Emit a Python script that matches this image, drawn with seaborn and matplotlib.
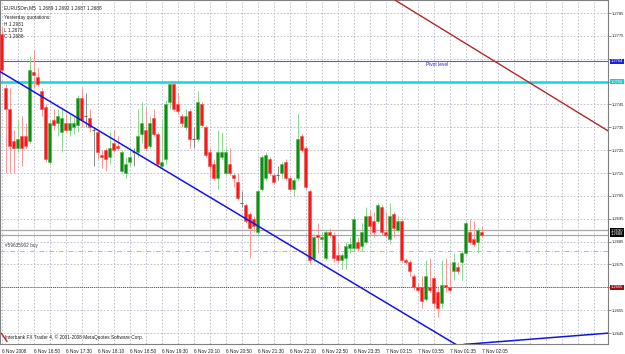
import numpy as np
import pandas as pd
import matplotlib
matplotlib.use("Agg")
import matplotlib.pyplot as plt
import seaborn as sns

# ---------------- data ----------------
opens = [1.2776, 1.2752, 1.2743, 1.2729, 1.2726, 1.2731, 1.2731, 1.2729, 1.2759, 1.2757,
         1.2751, 1.2744, 1.2720, 1.2738, 1.2737, 1.2733, 1.2737, 1.2734, 1.2735, 1.2736,
         1.2748, 1.2740, 1.2739, 1.2734, 1.2733, 1.2723, 1.2725, 1.2722, 1.2728, 1.2727,
         1.2716, 1.2715, 1.2720, 1.2724, 1.2724, 1.2732, 1.2734, 1.2727, 1.2739, 1.2732,
         1.2718, 1.2721, 1.2746, 1.2754, 1.2745, 1.2740, 1.2735, 1.2742, 1.2730, 1.2730,
         1.2745, 1.2735, 1.2724, 1.2719, 1.2713, 1.2722, 1.2715, 1.2719, 1.2714, 1.2711,
         1.2702, 1.2701, 1.2697, 1.2695, 1.2689, 1.2708, 1.2713, 1.2721, 1.2714, 1.2714,
         1.2715, 1.2720, 1.2713, 1.2708, 1.2713, 1.2731, 1.2726, 1.2707, 1.2678, 1.2688,
         1.2686, 1.2678, 1.2689, 1.2688, 1.2679, 1.2677, 1.2678, 1.2682, 1.2682, 1.2685,
         1.2683, 1.2685, 1.2696, 1.2694, 1.2694, 1.2700, 1.2689, 1.2686, 1.2697, 1.2690,
         1.2694, 1.2677, 1.2676, 1.2670, 1.2665, 1.2665, 1.2660, 1.2665, 1.2669, 1.2663,
         1.2658, 1.2666, 1.2665, 1.2672, 1.2674, 1.2676, 1.2680, 1.2689, 1.2686, 1.2685,
         1.2689]
highs = [1.2779, 1.2754, 1.2752, 1.2734, 1.2738, 1.2740, 1.2737, 1.2766, 1.2769, 1.2761,
         1.2752, 1.2745, 1.2738, 1.2743, 1.2743, 1.2744, 1.2741, 1.2741, 1.2740, 1.2749,
         1.2752, 1.2750, 1.2743, 1.2735, 1.2734, 1.2725, 1.2726, 1.2733, 1.2734, 1.2731,
         1.2725, 1.2722, 1.2726, 1.2726, 1.2743, 1.2746, 1.2744, 1.2740, 1.2743, 1.2733,
         1.2738, 1.2747, 1.2755, 1.2755, 1.2750, 1.2741, 1.2743, 1.2743, 1.2735, 1.2751,
         1.2746, 1.2736, 1.2726, 1.2721, 1.2734, 1.2733, 1.2726, 1.2726, 1.2715, 1.2715,
         1.2707, 1.2702, 1.2698, 1.2696, 1.2708, 1.2723, 1.2724, 1.2722, 1.2715, 1.2718,
         1.2720, 1.2721, 1.2714, 1.2713, 1.2741, 1.2732, 1.2727, 1.2708, 1.2688, 1.2693,
         1.2689, 1.2690, 1.2691, 1.2689, 1.2685, 1.2680, 1.2685, 1.2687, 1.2696, 1.2687,
         1.2693, 1.2700, 1.2699, 1.2698, 1.2702, 1.2701, 1.2698, 1.2702, 1.2698, 1.2696,
         1.2695, 1.2678, 1.2677, 1.2671, 1.2667, 1.2670, 1.2677, 1.2678, 1.2670, 1.2665,
         1.2677, 1.2678, 1.2676, 1.2680, 1.2676, 1.2681, 1.2694, 1.2695, 1.2694, 1.2691,
         1.2692]
lows = [1.2758, 1.2715, 1.2715, 1.2715, 1.2724, 1.2718, 1.2726, 1.2728, 1.2752, 1.2753,
        1.2740, 1.2720, 1.2719, 1.2734, 1.2731, 1.2724, 1.2733, 1.2731, 1.2732, 1.2733,
        1.2735, 1.2735, 1.2733, 1.2718, 1.2721, 1.2717, 1.2716, 1.2719, 1.2724, 1.2725,
        1.2715, 1.2713, 1.2718, 1.2718, 1.2722, 1.2728, 1.2725, 1.2726, 1.2731, 1.2718,
        1.2717, 1.2719, 1.2743, 1.2742, 1.2741, 1.2735, 1.2734, 1.2726, 1.2726, 1.2729,
        1.2735, 1.2722, 1.2713, 1.2712, 1.2708, 1.2721, 1.2714, 1.2714, 1.2709, 1.2703,
        1.2700, 1.2693, 1.2678, 1.2689, 1.2688, 1.2707, 1.2712, 1.2714, 1.2710, 1.2712,
        1.2713, 1.2712, 1.2707, 1.2705, 1.2712, 1.2724, 1.2708, 1.2675, 1.2676, 1.2680,
        1.2683, 1.2677, 1.2687, 1.2676, 1.2676, 1.2673, 1.2673, 1.2680, 1.2681, 1.2681,
        1.2681, 1.2684, 1.2688, 1.2687, 1.2693, 1.2688, 1.2687, 1.2684, 1.2687, 1.2689,
        1.2676, 1.2675, 1.2670, 1.2664, 1.2663, 1.2656, 1.2659, 1.2663, 1.2656, 1.2652,
        1.2656, 1.2663, 1.2663, 1.2668, 1.2671, 1.2668, 1.2679, 1.2684, 1.2683, 1.2680,
        1.2687]
closes = [1.2760, 1.2743, 1.2727, 1.2726, 1.2730, 1.2726, 1.2727, 1.2760, 1.2758, 1.2754,
          1.2743, 1.2721, 1.2737, 1.2736, 1.2740, 1.2739, 1.2734, 1.2737, 1.2737, 1.2748,
          1.2738, 1.2740, 1.2735, 1.2734, 1.2724, 1.2722, 1.2721, 1.2726, 1.2725, 1.2726,
          1.2724, 1.2719, 1.2722, 1.2724, 1.2731, 1.2737, 1.2726, 1.2737, 1.2732, 1.2719,
          1.2720, 1.2745, 1.2754, 1.2743, 1.2742, 1.2737, 1.2740, 1.2730, 1.2730, 1.2746,
          1.2736, 1.2723, 1.2718, 1.2713, 1.2724, 1.2724, 1.2724, 1.2715, 1.2713, 1.2704,
          1.2702, 1.2694, 1.2691, 1.2692, 1.2707, 1.2722, 1.2723, 1.2715, 1.2711, 1.2714,
          1.2719, 1.2713, 1.2708, 1.2712, 1.2730, 1.2725, 1.2709, 1.2677, 1.2687, 1.2687,
          1.2687, 1.2689, 1.2688, 1.2678, 1.2677, 1.2679, 1.2683, 1.2684, 1.2695, 1.2682,
          1.2689, 1.2696, 1.2692, 1.2689, 1.2701, 1.2689, 1.2688, 1.2696, 1.2691, 1.2694,
          1.2677, 1.2676, 1.2672, 1.2665, 1.2664, 1.2659, 1.2670, 1.2664, 1.2658, 1.2656,
          1.2666, 1.2665, 1.2664, 1.2676, 1.2672, 1.2680, 1.2693, 1.2685, 1.2684, 1.2690,
          1.2688]

time_labels = ["6 Nov 2008", "6 Nov 16:50", "6 Nov 17:30", "6 Nov 18:10", "6 Nov 18:50",
               "6 Nov 19:30", "6 Nov 20:10", "6 Nov 20:50", "6 Nov 21:30", "6 Nov 22:10",
               "6 Nov 22:50", "6 Nov 23:35", "7 Nov 00:15", "7 Nov 00:55", "7 Nov 01:35",
               "7 Nov 02:05"]
price_ticks = [1.2645, 1.2655, 1.2665, 1.2675, 1.2685, 1.2695, 1.2705, 1.2715,
               1.2725, 1.2735, 1.2745, 1.2755, 1.2765, 1.2775, 1.2785]

pivot_level = 1.2764
resistance_level = 1.2755
ask_level = 1.2690
bid_level = 1.2688
order_level = 1.2681
stop_level = 1.2665

# trend lines (bar index, price)
down_trend_bars = [-1, 125]
down_trend_prices = [1.2760, 1.2628]
up_trend_bars = [115.5, 152]
up_trend_prices = [1.2640, 1.2645]
red_trend_bars = [98, 152]
red_trend_prices = [1.2791, 1.2733]

header = "EURUSDm,M5  1.2689 1.2692 1.2687 1.2688"
yesterday = ["Yesterday quotations:", "H 1.2931", "L 1.2673", "C 1.2688"]

# ---------------- style ----------------
sns.set_theme(style="white")
plt.rcParams['font.family'] = ['Liberation Sans', 'DejaVu Sans']
FS = 3.4
FSR = 3.0

df = pd.DataFrame({"open": opens, "high": highs, "low": lows, "close": closes})
df["bar"] = np.arange(len(df))

fig = plt.figure(figsize=(6.25, 3.54), dpi=100)
ax = fig.add_axes([0, 10 / 354, 608 / 625, 344 / 354])
ax.set_facecolor("white")

ax.set_xlim(-0.425, 151.575)
ax.set_ylim(1.26402, 1.27907)

# labels hidden under the coloured price boxes
covered = {1.2765, 1.2755, 1.2665}
ax.set_yticks(price_ticks)
ax.set_yticklabels(["" if p in covered else f"{p:.4f}" for p in price_ticks])
ax.set_xticks(np.arange(0, len(time_labels) * 8, 8))
ax.set_xticklabels(time_labels, ha="left")
ax.set_xticks(np.arange(0, 152, 4), minor=True)
ax.grid(True, which="both", axis="both", color="#b4b8c8", linestyle=(0, (2, 2)), linewidth=0.6)
ax.set_axisbelow(True)

ax.yaxis.tick_right()
ax.tick_params(axis="y", which="major", labelsize=FSR, length=2, width=0.5, color="#606060",
               pad=0.8, labelcolor="#202020")
ax.tick_params(axis="x", which="major", labelsize=FS, length=2, width=0.5, color="#606060",
               pad=1.5, labelcolor="#202020")
ax.tick_params(axis="x", which="minor", length=0)
for lab in ax.get_yticklabels():
    lab.set_horizontalalignment("left")
for s in ax.spines.values():
    s.set_color("#808080")
    s.set_linewidth(0.8)

# horizontal levels
ax.axhline(pivot_level, color="#5a5ad2", lw=0.8, zorder=1.5)
ax.axhline(resistance_level, color="#10d8d8", lw=1.8, zorder=1.5)
ax.axhline(ask_level, color="#a8a8a8", lw=0.9, zorder=1.5)
ax.axhline(bid_level, color="#a8a8a8", lw=0.9, zorder=1.5)
ax.axhline(order_level, color="#8cd88c", lw=0.7, linestyle=(0, (5, 2, 1, 2)), zorder=1.5)
ax.axhline(stop_level, color="#b03030", lw=0.7, linestyle=(0, (1, 1)), zorder=1.5)

# candles
up = df[df.close > df.open]
dn = df[df.close < df.open]
dj = df[df.close == df.open]
W = 0.72
ax.vlines(up.bar, up.low, up.high, color="#8fd68f", lw=0.7, zorder=3)
ax.vlines(dn.bar, dn.low, dn.high, color="#f29a9a", lw=0.7, zorder=3)
ax.vlines(dj.bar, dj.low, dj.high, color="#8a8a8a", lw=0.7, zorder=3)
ax.bar(up.bar, up.close - up.open, bottom=up.open, width=W, color="#128a18",
       edgecolor="#44b844", linewidth=0.4, zorder=4)
ax.bar(dn.bar, dn.open - dn.close, bottom=dn.close, width=W, color="#f01c1c",
       edgecolor="#ff4a4a", linewidth=0.4, zorder=4)
ax.hlines(dj.open, dj.bar - W / 2, dj.bar + W / 2, color="#6a6a6a", lw=0.8, zorder=4)

# trend lines
sns.lineplot(x=down_trend_bars, y=down_trend_prices, ax=ax, color="#1414e6", lw=1.1, zorder=5)
sns.lineplot(x=up_trend_bars, y=up_trend_prices, ax=ax, color="#1414e6", lw=1.1, zorder=5)
sns.lineplot(x=red_trend_bars, y=red_trend_prices, ax=ax, color="#b02828", lw=1.0, zorder=5)

# texts
ax.text(106, pivot_level - 0.00005, "Pivot level", fontsize=FS, color="#2020c0", va="top", ha="left")
ax.text(0.006, 0.985, header, transform=ax.transAxes, fontsize=FS, color="#202020", va="top")
for k, t in enumerate(yesterday):
    ax.text(0.006, 0.955 - k * 0.018, t, transform=ax.transAxes, fontsize=FS,
            color="#202020", va="top")
ax.text(0.8, order_level + 0.00012, "#59635902 buy", fontsize=FS, color="#404040",
        va="bottom", ha="left")
ax.text(0.008, 0.012, "Interbank FX Trader 4, \u00a9 2001-2008 MetaQuotes Software Corp.",
        transform=ax.transAxes, fontsize=FS, color="#202020", va="bottom")
# small red logo mark at the bottom-left corner
ax.plot([0.002, 0.012], [0.032, 0.006], transform=ax.transAxes, color="#d01818", lw=1.0,
        solid_capstyle="butt", zorder=6)

ytr = ax.get_yaxis_transform()
def box(price, txt, fc):
    ax.text(1.0045, price, txt, transform=ytr, fontsize=FSR, color="white", va="center",
            ha="left", clip_on=False, zorder=10, linespacing=0.95,
            bbox=dict(boxstyle="square,pad=0.12", fc=fc, ec="none"))

box(pivot_level, f"{pivot_level:.4f}", "#1f1fe0")
box(resistance_level, f"{resistance_level:.4f}", "#18d0d0")
box((ask_level + bid_level) / 2, f"{ask_level:.4f}\n{bid_level:.4f}", "#000000")
box(stop_level, f"{stop_level:.4f}", "#a01010")

fig.savefig("out.png", dpi=100)
